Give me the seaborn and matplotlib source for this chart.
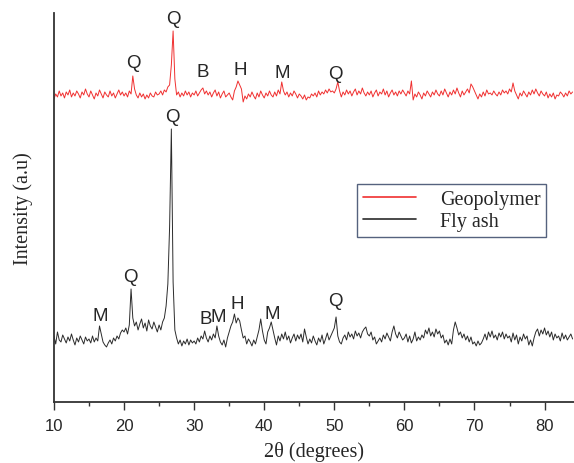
import numpy as np
import pandas as pd
import matplotlib
matplotlib.use("Agg")
import matplotlib.pyplot as plt
import seaborn as sns

# 2theta grid of the scans (degrees)
two_theta = np.arange(10.0, 84.001, 0.25)

# fly ash counts (a.u.), one row = 5 degrees
fly_ash = [
    66, 58, 70, 62, 60, 67, 63, 59, 65, 61, 68, 62, 57, 64, 60, 66, 62, 58, 65, 61,
    63, 59, 66, 60, 64, 61, 76, 68, 60, 57, 55, 59, 62, 58, 64, 61, 66, 63, 69, 72,
    70, 74, 68, 77, 113, 84, 76, 80, 72, 78, 83, 74, 79, 71, 82, 76, 73, 80, 75, 70,
    77, 72, 80, 84, 96, 118, 175, 273, 120, 72, 64, 58, 62, 56, 61, 58, 63, 57, 62, 59,
    61, 58, 64, 60, 66, 63, 71, 64, 60, 66, 62, 68, 64, 76, 66, 60, 57, 62, 55, 64,
    70, 76, 80, 88, 79, 84, 81, 72, 64, 66, 58, 63, 60, 56, 62, 58, 65, 72, 83, 71,
    62, 58, 70, 74, 80, 72, 64, 57, 66, 61, 68, 63, 70, 62, 66, 59, 64, 68, 61, 67,
    63, 68, 60, 73, 65, 58, 63, 59, 66, 61, 57, 64, 60, 67, 58, 63, 69, 62, 66, 70,
    74, 85, 66, 60, 58, 64, 67, 62, 70, 65, 68, 63, 71, 66, 69, 64, 70, 73, 75, 68,
    66, 70, 62, 65, 58, 61, 64, 60, 67, 63, 69, 65, 61, 70, 76, 68, 64, 70, 66, 62,
    64, 68, 60, 66, 59, 63, 70, 61, 65, 62, 67, 64, 72, 68, 74, 66, 70, 65, 73, 68,
    71, 64, 67, 59, 62, 57, 63, 58, 72, 80, 74, 67, 70, 64, 68, 62, 66, 60, 65, 58,
    60, 56, 61, 57, 59, 63, 68, 62, 70, 65, 71, 64, 67, 62, 69, 65, 70, 63, 68, 64,
    66, 60, 69, 62, 67, 58, 65, 61, 68, 63, 66, 57, 62, 56, 64, 70, 73, 66, 72, 68,
    74, 67, 71, 65, 70, 62, 68, 64, 66, 61, 69, 63, 67, 62, 65, 68, 63,
]

# geopolymer counts (a.u.)
geopolymer = [
    58, 63, 60, 66, 61, 64, 59, 65, 62, 67, 60, 64, 61, 66, 63, 59, 65, 62, 68, 63,
    60, 66, 62, 58, 64, 61, 67, 63, 59, 65, 62, 60, 66, 61, 64, 59, 63, 67, 62, 65,
    61, 64, 60, 66, 63, 81, 68, 62, 59, 64, 60, 63, 58, 62, 59, 64, 61, 60, 65, 62,
    63, 66, 62, 67, 65, 70, 72, 92, 126, 78, 62, 65, 60, 64, 61, 66, 62, 65, 60, 64,
    62, 66, 61, 64, 67, 69, 63, 66, 62, 65, 60, 64, 67, 61, 65, 59, 63, 66, 60, 62,
    64, 60, 57, 66, 70, 76, 72, 68, 55, 61, 58, 63, 60, 65, 61, 58, 64, 60, 66, 62,
    59, 64, 61, 66, 62, 60, 65, 61, 67, 63, 75, 66, 62, 65, 60, 64, 61, 66, 63, 59,
    63, 61, 58, 62, 57, 60, 59, 63, 61, 64, 60, 66, 62, 65, 63, 67, 64, 68, 65, 66,
    64, 68, 75, 66, 60, 65, 62, 67, 63, 66, 61, 65, 68, 62, 66, 63, 69, 64, 61, 65,
    62, 66, 60, 64, 67, 61, 65, 63, 68, 62, 66, 60, 64, 67, 62, 65, 61, 66, 63, 67,
    64, 61, 66, 63, 76, 57, 63, 60, 65, 62, 58, 64, 61, 66, 63, 60, 65, 62, 67, 63,
    61, 66, 62, 68, 64, 60, 65, 62, 67, 63, 69, 64, 60, 66, 62, 65, 68, 64, 73, 70,
    66, 62, 58, 63, 60, 65, 61, 67, 63, 64, 62, 66, 63, 61, 65, 62, 67, 64, 66, 63,
    68, 65, 74, 66, 62, 58, 64, 61, 66, 63, 60, 65, 62, 67, 63, 68, 64, 61, 66, 63,
    61, 65, 59, 63, 60, 64, 58, 62, 61, 65, 63, 60, 64, 61, 66, 63, 65,
]
geo_offset = 245

# phase labels: Q quartz, M mullite, H hematite, B
geo_labels = ["Q", "Q", "B", "H", "M", "Q"]
geo_label_x = [21.3, 27.0, 31.3, 36.6, 42.6, 50.1]
geo_label_y = [339, 383, 330, 332, 329, 328]
fa_labels = ["M", "Q", "Q", "B", "M", "H", "M", "Q"]
fa_label_x = [16.6, 20.9, 26.9, 31.6, 33.5, 36.1, 41.1, 50.1]
fa_label_y = [86, 125, 285, 83, 85, 98, 88, 101]

df = pd.DataFrame({
    "two_theta": np.concatenate([two_theta, two_theta]),
    "intensity": np.concatenate([np.array(geopolymer) + geo_offset, fly_ash]),
    "sample": ["Geopolymer"] * len(two_theta) + ["Fly ash"] * len(two_theta),
})

sns.set_style("ticks")
fig = plt.figure(figsize=(5.74, 4.64), dpi=100)
ax = fig.add_axes([0.094, 0.1315, 0.906, 0.8384])

sns.lineplot(data=df, x="two_theta", y="intensity", hue="sample",
             palette={"Geopolymer": "#f03030", "Fly ash": "#2b2b2b"},
             estimator=None, sort=False, linewidth=0.7, ax=ax)

for lab, x, y in zip(geo_labels, geo_label_x, geo_label_y):
    ax.text(x, y, lab, ha="center", va="center", fontsize=13.5, family="Liberation Sans")
for lab, x, y in zip(fa_labels, fa_label_x, fa_label_y):
    ax.text(x, y, lab, ha="center", va="center", fontsize=13.5, family="Liberation Sans")

ax.set_xlim(10, 84.2)
ax.set_ylim(0, 389)
ax.set_xticks(range(10, 90, 10))
ax.set_xticks(range(15, 85, 10), minor=True)
ax.set_yticks([])
ax.tick_params(axis="x", which="major", length=6, width=1, labelsize=12, pad=5.5, color="#333333")
ax.tick_params(axis="x", which="minor", length=3, width=1, color="#333333")
for lbl in ax.get_xticklabels():
    lbl.set_family("Liberation Sans")
sns.despine(ax=ax, top=True, right=True)
for s in ["left", "bottom"]:
    ax.spines[s].set_color("#333333")
    ax.spines[s].set_linewidth(1.3)

ax.set_xlabel("2θ (degrees)", fontsize=14.5, family="Liberation Serif", labelpad=6)
ax.set_ylabel("Intensity (a.u)", fontsize=14.5, family="Liberation Serif", labelpad=15)

leg = ax.legend(loc="upper left", bbox_to_anchor=(0.583, 0.560), borderaxespad=0,
                fancybox=False, frameon=True, framealpha=1, edgecolor="#55627e",
                handlelength=2.6, handletextpad=1.2, borderpad=0.3, labelspacing=0.12,
                prop={"family": "Liberation Serif", "size": 14.5})
leg.get_frame().set_linewidth(1.0)
for line in leg.get_lines():
    line.set_linewidth(1.2)

fig.savefig("out.png", dpi=100)
